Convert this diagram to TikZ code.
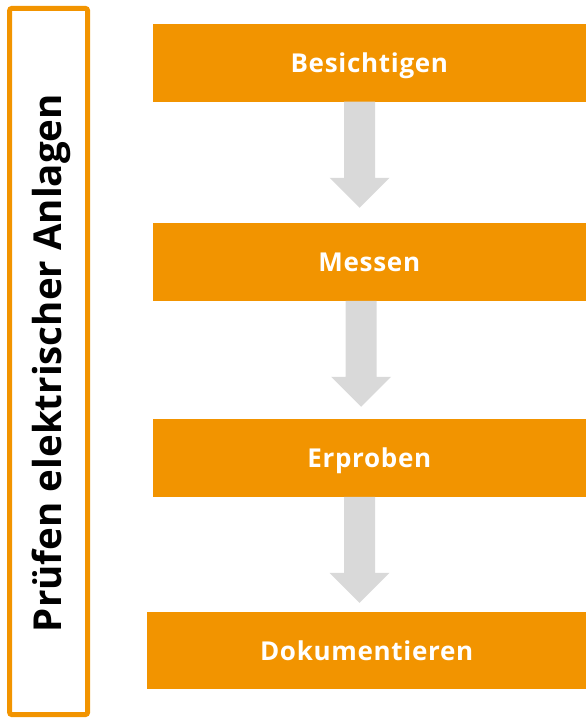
\documentclass[tikz,border=0pt]{standalone}
\usepackage{fontspec}
\setmainfont{Open Sans}
\newfontfamily\boxfont[LetterSpace=2.7]{Open Sans}
\usetikzlibrary{calc}
\definecolor{org}{RGB}{242,148,0}
\definecolor{agray}{RGB}{217,217,217}
\tikzset{
  stepbox/.style={fill=org, draw=none, minimum width=433.3bp, minimum height=77.7bp,
    inner sep=0pt, outer sep=0pt, text=white,
    font=\boxfont\bfseries\fontsize{26bp}{30bp}\selectfont, text height=18.6bp, text depth=0pt},
  blockarrow/.style={fill=agray, draw=none},
  framebox/.style={draw=org, line width=5bp, rounded corners=2bp, inner sep=0pt, outer sep=0pt},
  titletext/.style={rotate=90, anchor=base, inner sep=0pt, outer sep=0pt,
    font=\bfseries\fontsize{38.5bp}{44bp}\selectfont},
}
% #1 source node, #2 x of arrow axis
\newcommand\flowarrow[2]{%
  \coordinate (ax) at (#2,0);
  \fill[blockarrow] ($(ax |- #1.south)+(-15.5,0)$) -- ($(ax |- #1.south)+(15.5,0)$)
    -- ($(ax |- #1.south)+(15.5,76)$) -- ($(ax |- #1.south)+(30,76)$)
    -- ($(ax |- #1.south)+(0,106)$)
    -- ($(ax |- #1.south)+(-30,76)$) -- ($(ax |- #1.south)+(-15.5,76)$) -- cycle;
}
\begin{document}
\begin{tikzpicture}[x=1bp,y=-1bp]
\useasboundingbox (0,0) rectangle (586,718);
\node[framebox, minimum width=77.8bp, minimum height=706bp] (frame) at (48.6,361.5) {};
\node[titletext] (title) at (61.7,363) {Prüfen elektrischer Anlagen};
\node[stepbox] (b1) at (369.3,62.9) {Besichtigen};
\node[stepbox] (b2) at (369.3,261.9) {Messen};
\node[stepbox] (b3) at (369.3,457.9) {Erproben};
\node[stepbox, minimum width=438.7bp, minimum height=77.3bp] (b4) at (366.7,650.7) {Dokumentieren};
\flowarrow{b1}{359.5}
\flowarrow{b2}{361}
\flowarrow{b3}{359.5}
\end{tikzpicture}
\end{document}
